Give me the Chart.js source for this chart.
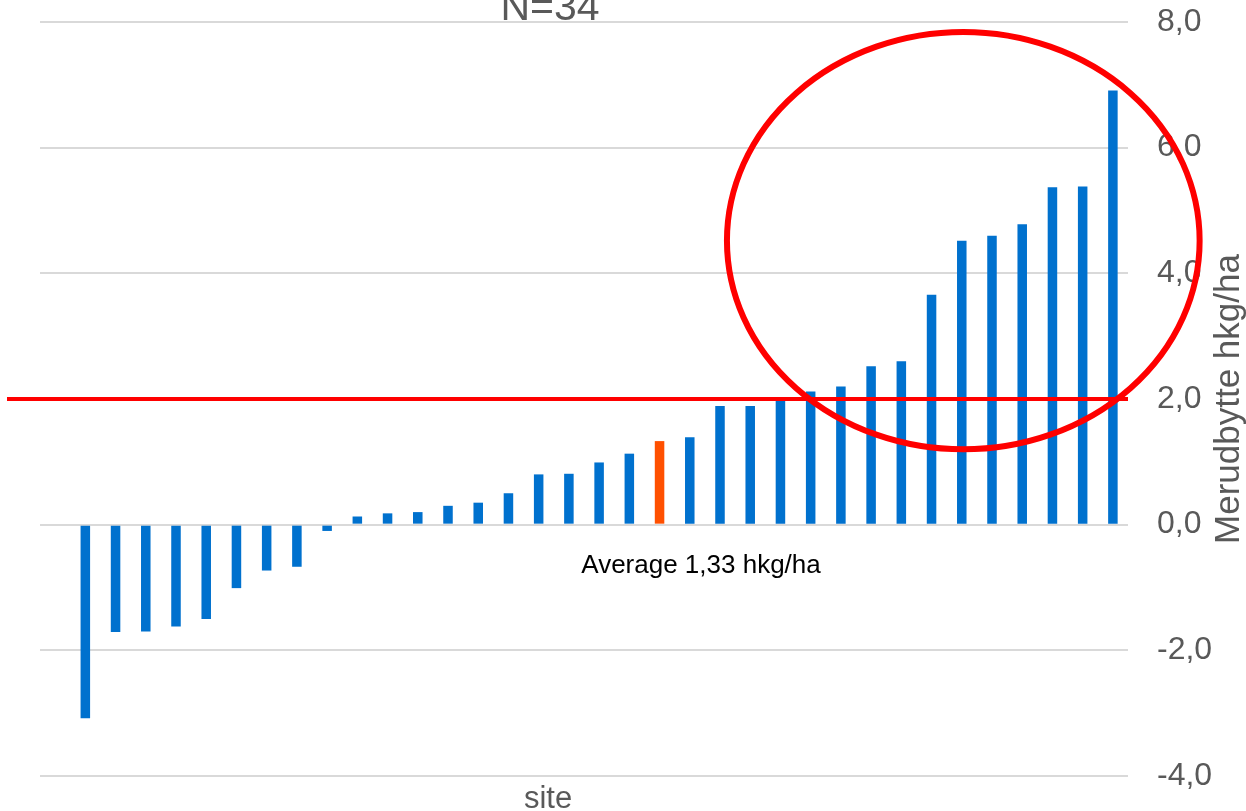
<!DOCTYPE html>
<html>
<head>
<meta charset="utf-8">
<script src="https://cdn.jsdelivr.net/npm/chart.js@4/dist/chart.umd.min.js"></script>
<style>
  html, body { margin: 0; padding: 0; background: #ffffff; }
  #wrap { width: 1246px; height: 811px; }
</style>
</head>
<body>
<div id="wrap"><canvas id="chart" width="1246" height="811"></canvas></div>
<script>
// Yield gain per site, sorted ascending; the mean is slotted in among them.
const categories = ['', 'S1', 'S2', 'S3', 'S4', 'S5', 'S6', 'S7', 'S8', 'S9', 'S10',
  'S11', 'S12', 'S13', 'S14', 'S15', 'S16', 'S17', 'S18', 'S19', 'Average',
  'S20', 'S21', 'S22', 'S23', 'S24', 'S25', 'S26', 'S27', 'S28', 'S29',
  'S30', 'S31', 'S32', 'S33', 'S34'];
const gains = [null, -3.08, -1.71, -1.70, -1.62, -1.50, -1.01, -0.73, -0.67, -0.10, 0.13,
  0.18, 0.20, 0.30, 0.35, 0.50, 0.80, 0.81, 0.99, 1.13, 1.33,
  1.39, 1.89, 1.89, 2.03, 2.12, 2.20, 2.52, 2.60, 3.66, 4.52,
  4.60, 4.78, 5.37, 5.38, 6.91];
const averageLabel = 'Average';
const siteCount = 34;
const yTicks = [-4, -2, 0, 2, 4, 6, 8];
const thresholdValue = 2.0;
// Highlight ring around the high-response sites (category index / value units)
const ringCenter = { x: 30.05, y: 4.52 };
const ringRadius = { x: 7.82, y: 3.32 };

const FONT = '"Liberation Sans", Arial, sans-serif';
const GREY = '#595959';
const fmt = v => v.toFixed(1).replace('.', ',');
const avgValue = gains[categories.indexOf(averageLabel)];

const overlay = {
  id: 'overlay',
  afterDraw(chart) {
    const { ctx, chartArea, scales } = chart;
    const x = scales.x, y = scales.y;
    ctx.save();

    // title (partly above the canvas edge)
    ctx.fillStyle = GREY;
    ctx.font = '41px ' + FONT;
    ctx.textAlign = 'center';
    ctx.textBaseline = 'alphabetic';
    ctx.fillText('N=' + siteCount, 550, 20);

    // category axis caption
    ctx.font = '31px ' + FONT;
    ctx.fillText('site', 548, 808);

    // average caption
    ctx.fillStyle = '#000000';
    ctx.font = '26px ' + FONT;
    ctx.fillText(averageLabel + ' ' + avgValue.toFixed(2).replace('.', ',') + ' hkg/ha', 701, 573);

    // value axis title, reading bottom to top
    ctx.fillStyle = GREY;
    ctx.font = '35px ' + FONT;
    ctx.translate(1229, (chartArea.top + chartArea.bottom) / 2);
    ctx.rotate(-Math.PI / 2);
    ctx.textBaseline = 'middle';
    ctx.fillText('Merudbytte hkg/ha', 0, 0);
    ctx.setTransform(1, 0, 0, 1, 0, 0);

    // threshold line
    const ty = y.getPixelForValue(thresholdValue);
    ctx.strokeStyle = '#FF0000';
    ctx.lineWidth = 4;
    ctx.beginPath();
    ctx.moveTo(chartArea.left - 33, ty);
    ctx.lineTo(chartArea.right, ty);
    ctx.stroke();

    // highlight ring
    const cx = x.getPixelForValue(ringCenter.x);
    const cy = y.getPixelForValue(ringCenter.y);
    const step = x.getPixelForValue(1) - x.getPixelForValue(0);
    const rx = ringRadius.x * step;
    const ry = Math.abs(y.getPixelForValue(0) - y.getPixelForValue(ringRadius.y));
    ctx.lineWidth = 6;
    ctx.beginPath();
    ctx.ellipse(cx, cy, rx, ry, 0, 0, Math.PI * 2);
    ctx.stroke();

    ctx.restore();
  }
};

new Chart(document.getElementById('chart'), {
  type: 'bar',
  data: {
    labels: categories,
    datasets: [{
      data: gains,
      backgroundColor: categories.map(c => c === averageLabel ? '#FF5000' : '#0071CE'),
      borderWidth: 0,
      categoryPercentage: 1,
      barPercentage: 0.315
    }]
  },
  options: {
    responsive: false,
    animation: false,
    layout: { padding: { left: 40, top: 22, bottom: 35, right: 0 } },
    plugins: { legend: { display: false }, tooltip: { enabled: false }, title: { display: false } },
    scales: {
      x: { display: false },
      y: {
        position: 'right',
        min: yTicks[0],
        max: yTicks[yTicks.length - 1],
        afterBuildTicks: axis => { axis.ticks = yTicks.map(v => ({ value: v })); },
        afterFit: axis => { axis.width = 118; axis.paddingTop = 0; axis.paddingBottom = 0; },
        border: { display: false },
        grid: { color: '#d9d9d9', lineWidth: 2, drawTicks: false },
        ticks: {
          padding: 29,
          color: GREY,
          font: { family: FONT, size: 32 },
          callback: v => fmt(v)
        }
      }
    }
  },
  plugins: [overlay]
});
</script>
</body>
</html>
